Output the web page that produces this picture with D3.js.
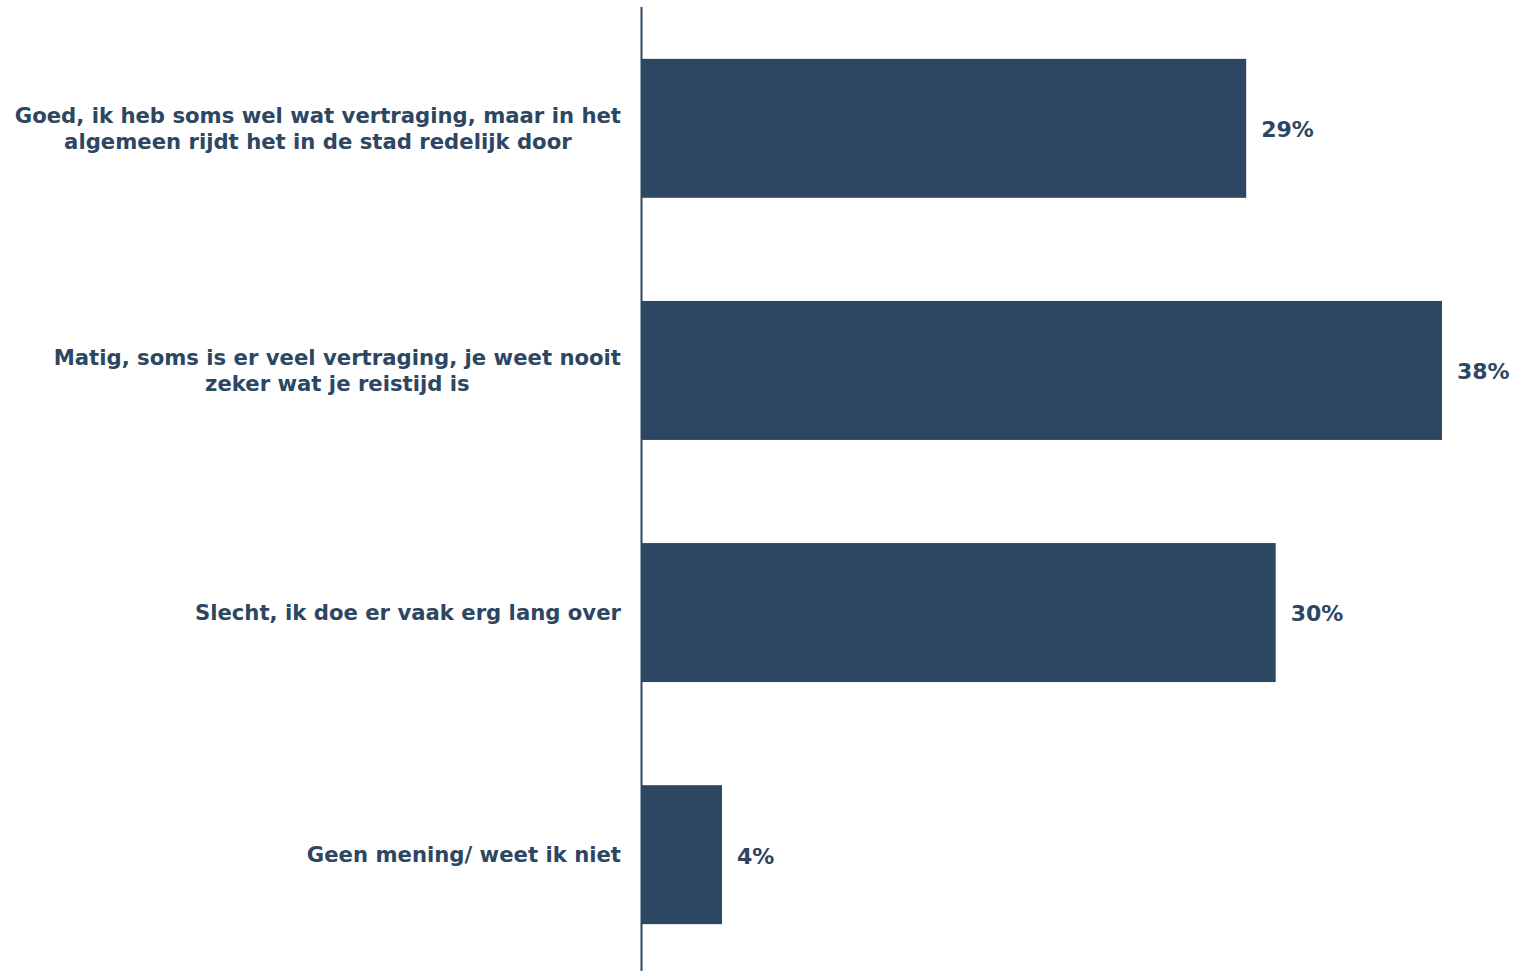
<!DOCTYPE html>
<html>
<head>
<meta charset="utf-8">
<script src="https://cdn.jsdelivr.net/npm/d3@7"></script>
<style>
  body { margin: 0; background: #fff; }
  svg text { font-family: Verdana, "DejaVu Sans", sans-serif; font-weight: bold; fill: #2d4662; }
</style>
</head>
<body>
<div id="chart"></div>
<script>
// Categories (each entry is the lines of one label)
const categories = [
    ["Goed, ik heb soms wel wat vertraging, maar in het", "algemeen rijdt het in de stad redelijk door"],
    ["Matig, soms is er veel vertraging, je weet nooit", "zeker wat je reistijd is"],
    ["Slecht, ik doe er vaak erg lang over"],
    ["Geen mening/ weet ik niet"]
];
// Shares in percent
const values = [28.7, 38.0, 30.1, 3.8];

const width = 1515, height = 971;
const barColor = "#2d4662";
const axisX = 642;

const svg = d3.select("#chart")
    .append("svg")
    .attr("width", width)
    .attr("height", height);

const keys = categories.map((d, i) => i);

// Y axis (bands)
const yScale = d3.scaleBand()
    .domain(keys)
    .range([8, 975])
    .paddingInner(0.426)
    .paddingOuter(0.21);

const xScale = d3.scaleLinear()
    .domain([0, 38])
    .range([axisX, axisX + 800]);

// Bars
svg.selectAll(".bar")
    .data(values)
    .enter().append("rect")
    .attr("class", "bar")
    .attr("x", xScale(0))
    .attr("y", (d, i) => yScale(i))
    .attr("width", d => xScale(d) - xScale(0))
    .attr("height", yScale.bandwidth())
    .style("fill", barColor);

// Vertical axis line
svg.append("line")
    .attr("x1", axisX - 0.5)
    .attr("x2", axisX - 0.5)
    .attr("y1", 7)
    .attr("y2", height)
    .attr("stroke", barColor)
    .attr("stroke-width", 2);

// Value labels
svg.selectAll(".value")
    .data(values)
    .enter().append("text")
    .attr("class", "value")
    .attr("x", d => xScale(d) + 15)
    .attr("y", (d, i) => yScale(i) + yScale.bandwidth() / 2 + 1)
    .attr("dy", "0.36em")
    .attr("font-size", "22px")
    .text(d => d3.format(".0f")(d) + "%");

// Category labels: block right-aligned to the axis, lines centred inside it
const lineHeight = 26;
categories.forEach((lines, i) => {
    const g = svg.append("g");
    const texts = lines.map(l => g.append("text")
        .attr("font-size", "21.2px")
        .attr("text-anchor", "middle")
        .text(l));
    const maxW = d3.max(texts, t => t.node().getComputedTextLength());
    const cx = axisX - 21 - maxW / 2;
    const cy = yScale(i) + yScale.bandwidth() / 2;
    texts.forEach((t, j) => {
        t.attr("x", cx)
         .attr("y", cy + (j - (lines.length - 1) / 2) * lineHeight)
         .attr("dy", "0.35em");
    });
});
</script>
</body>
</html>
